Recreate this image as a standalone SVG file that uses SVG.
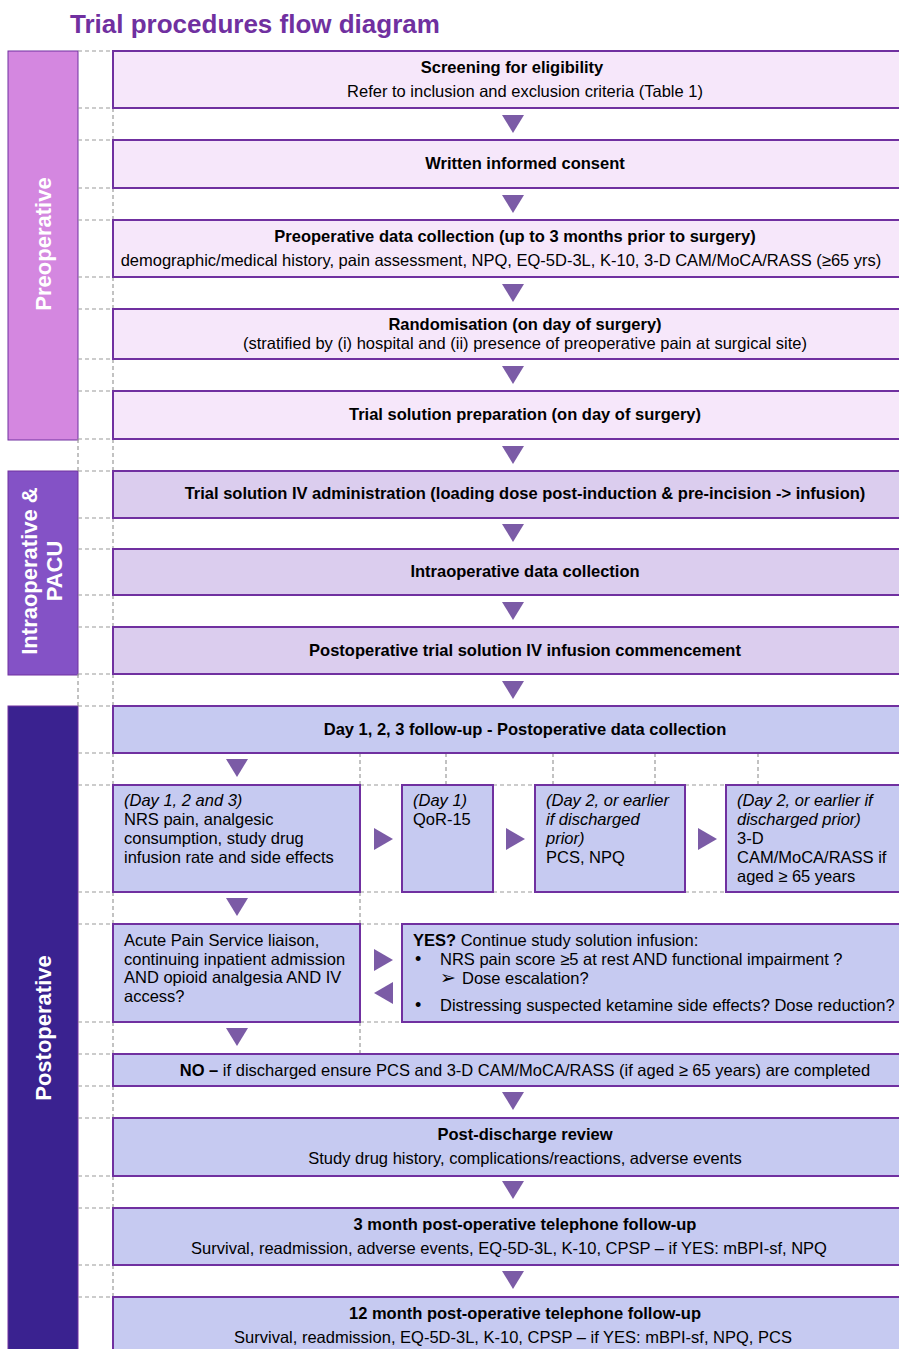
<svg xmlns="http://www.w3.org/2000/svg" width="899" height="1349" viewBox="0 0 899 1349">
<style>
text{font-family:"Liberation Sans",Arial,sans-serif;font-size:16.5px;fill:#000}
.t{font-size:26px;font-weight:bold;fill:#7030A0}
.b{font-weight:bold}
.i{font-style:italic}
.c{text-anchor:middle}
.lab{font-size:22px;font-weight:bold;fill:#fff;text-anchor:middle}
.pre{fill:#F6E7FA;stroke:#7030A0;stroke-width:2}
.intra{fill:#DBCDEE;stroke:#7030A0;stroke-width:2}
.post{fill:#C6CAF1;stroke:#7030A0;stroke-width:2}
.dash{fill:none;stroke:#9a9a9a;stroke-width:1.2;stroke-dasharray:4 3}
.arr{fill:#7B5BA6}
</style>
<rect width="899" height="1349" fill="#fff"/>
<text class="t" x="70" y="33">Trial procedures flow diagram</text>

<g id="bands">
<rect x="8" y="51" width="70" height="389" fill="#D487E0" stroke="#7030A0" stroke-width="1"/>
<rect x="8" y="471" width="70" height="204" fill="#8452C6" stroke="#7030A0" stroke-width="1"/>
<rect x="8" y="706" width="70" height="660" fill="#3A2290" stroke="#7030A0" stroke-width="1"/>
<text class="lab" transform="translate(51,244) rotate(-90)">Preoperative</text>
<text class="lab" transform="translate(37,571) rotate(-90)">Intraoperative &amp;</text>
<text class="lab" transform="translate(62,571) rotate(-90)">PACU</text>
<text class="lab" transform="translate(51,1028) rotate(-90)">Postoperative</text>
</g>

<g id="grid">
<path class="dash" d="M78 51H113M78 108H113M78 140H113M78 188H113M78 220H113M78 277H113M78 309H113M78 359H113M78 391H113M78 439H113M78 471H113M78 518H113M78 549H113M78 595H113M78 627H113M78 674H113M78 706H113M78 753H113M78 785H113M78 892H113M78 924H113M78 1022H113M78 1054H113M78 1086H113M78 1118H113M78 1176H113M78 1208H113M78 1265H113M78 1297H113"/>
<path class="dash" d="M113 108V140M113 188V220M113 277V309M113 359V391M113 439V471M113 518V549M113 595V627M113 674V706M113 753V785M113 892V924M113 1022V1054M113 1086V1118M113 1176V1208M113 1265V1297M78 439V471M78 674V706"/>
<path class="dash" d="M360 753V785M446 753V785M553 753V785M655 753V785M758 753V785M360 892V924M360 1022V1054M360 785H402M493 785H535M685 785H726M360 892H402M493 892H535M685 892H726M360 924H402M360 1022H402"/>
</g>

<g id="n1"><rect class="pre" x="113" y="51" width="830" height="57"/>
<text class="b c" x="512" y="73">Screening for eligibility</text>
<text class="c" x="525" y="97">Refer to inclusion and exclusion criteria (Table 1)</text></g>
<g id="n2"><rect class="pre" x="113" y="140" width="830" height="48"/>
<text class="b c" x="525" y="169">Written informed consent</text></g>
<g id="n3"><rect class="pre" x="113" y="220" width="830" height="57"/>
<text class="b c" x="515" y="242">Preoperative data collection (up to 3 months prior to surgery)</text>
<text class="c" x="501" y="266">demographic/medical history, pain assessment, NPQ, EQ-5D-3L, K-10, 3-D CAM/MoCA/RASS (≥65 yrs)</text></g>
<g id="n4"><rect class="pre" x="113" y="309" width="830" height="50"/>
<text class="b c" x="525" y="330">Randomisation (on day of surgery)</text>
<text class="c" x="525" y="349">(stratified by (i) hospital and (ii) presence of preoperative pain at surgical site)</text></g>
<g id="n5"><rect class="pre" x="113" y="391" width="830" height="48"/>
<text class="b c" x="525" y="420">Trial solution preparation (on day of surgery)</text></g>

<g id="n6"><rect class="intra" x="113" y="471" width="830" height="47"/>
<text class="b c" x="525" y="499">Trial solution IV administration (loading dose post-induction &amp; pre-incision -&gt; infusion)</text></g>
<g id="n7"><rect class="intra" x="113" y="549" width="830" height="46"/>
<text class="b c" x="525" y="577">Intraoperative data collection</text></g>
<g id="n8"><rect class="intra" x="113" y="627" width="830" height="47"/>
<text class="b c" x="525" y="656">Postoperative trial solution IV infusion commencement</text></g>

<g id="n9"><rect class="post" x="113" y="706" width="830" height="47"/>
<text class="b c" x="525" y="735">Day 1, 2, 3 follow-up - Postoperative data collection</text></g>
<g id="n10"><rect class="post" x="113" y="785" width="247" height="107"/>
<text x="124" y="806"><tspan class="i">(Day 1, 2 and 3)</tspan><tspan x="124" dy="19">NRS pain, analgesic</tspan><tspan x="124" dy="19">consumption, study drug</tspan><tspan x="124" dy="19">infusion rate and side effects</tspan></text></g>
<g id="n11"><rect class="post" x="402" y="785" width="91" height="107"/>
<text x="413" y="806"><tspan class="i">(Day 1)</tspan><tspan x="413" dy="19">QoR-15</tspan></text></g>
<g id="n12"><rect class="post" x="535" y="785" width="150" height="107"/>
<text x="546" y="806"><tspan class="i">(Day 2, or earlier</tspan><tspan class="i" x="546" dy="19">if discharged</tspan><tspan class="i" x="546" dy="19">prior)</tspan><tspan x="546" dy="19">PCS, NPQ</tspan></text></g>
<g id="n13"><rect class="post" x="726" y="785" width="217" height="107"/>
<text x="737" y="806"><tspan class="i">(Day 2, or earlier if</tspan><tspan class="i" x="737" dy="19">discharged prior)</tspan><tspan x="737" dy="19">3-D</tspan><tspan x="737" dy="19">CAM/MoCA/RASS if</tspan><tspan x="737" dy="19">aged ≥ 65 years</tspan></text></g>
<g id="n14"><rect class="post" x="113" y="924" width="247" height="98"/>
<text x="124" y="946"><tspan>Acute Pain Service liaison,</tspan><tspan x="124" dy="18.7">continuing inpatient admission</tspan><tspan x="124" dy="18.7">AND opioid analgesia AND IV</tspan><tspan x="124" dy="18.7">access?</tspan></text></g>
<g id="n15"><rect class="post" x="402" y="924" width="541" height="98"/>
<text x="413" y="946"><tspan class="b">YES?</tspan> Continue study solution infusion:</text>
<text x="415" y="965" style="font-size:18px">•</text><text x="440" y="965">NRS pain score ≥5 at rest AND functional impairment ?</text>
<text x="440" y="984" style="font-size:19px">➢</text><text x="462" y="984">Dose escalation?</text>
<text x="415" y="1011" style="font-size:18px">•</text><text x="440" y="1011">Distressing suspected ketamine side effects? Dose reduction?</text></g>
<g id="n16"><rect class="post" x="113" y="1054" width="830" height="32"/>
<text class="c" x="525" y="1076"><tspan class="b">NO –</tspan> if discharged ensure PCS and 3-D CAM/MoCA/RASS (if aged ≥ 65 years) are completed</text></g>
<g id="n17"><rect class="post" x="113" y="1118" width="830" height="58"/>
<text class="b c" x="525" y="1140">Post-discharge review</text>
<text class="c" x="525" y="1164">Study drug history, complications/reactions, adverse events</text></g>
<g id="n18"><rect class="post" x="113" y="1208" width="830" height="57"/>
<text class="b c" x="525" y="1230">3 month post-operative telephone follow-up</text>
<text class="c" x="509" y="1254">Survival, readmission, adverse events, EQ-5D-3L, K-10, CPSP – if YES: mBPI-sf, NPQ</text></g>
<g id="n19"><rect class="post" x="113" y="1297" width="830" height="70"/>
<text class="b c" x="525" y="1319">12 month post-operative telephone follow-up</text>
<text class="c" x="513" y="1343">Survival, readmission, EQ-5D-3L, K-10, CPSP – if YES: mBPI-sf, NPQ, PCS</text></g>

<g id="connectors">
<polygon class="arr" points="502,115 524,115 513,133"/>
<polygon class="arr" points="502,195 524,195 513,213"/>
<polygon class="arr" points="502,284 524,284 513,302"/>
<polygon class="arr" points="502,366 524,366 513,384"/>
<polygon class="arr" points="502,446 524,446 513,464"/>
<polygon class="arr" points="502,524 524,524 513,542"/>
<polygon class="arr" points="502,602 524,602 513,620"/>
<polygon class="arr" points="502,681 524,681 513,699"/>
<polygon class="arr" points="226,759 248,759 237,777"/>
<polygon class="arr" points="226,898 248,898 237,916"/>
<polygon class="arr" points="226,1028 248,1028 237,1046"/>
<polygon class="arr" points="502,1092 524,1092 513,1110"/>
<polygon class="arr" points="502,1181 524,1181 513,1199"/>
<polygon class="arr" points="502,1271 524,1271 513,1289"/>
<polygon class="arr" points="374,828 374,850 393,839"/>
<polygon class="arr" points="506,828 506,850 525,839"/>
<polygon class="arr" points="698,828 698,850 717,839"/>
<polygon class="arr" points="374,949 374,971 393,960"/>
<polygon class="arr" points="393,982 393,1004 374,993"/>
</g>
</svg>
